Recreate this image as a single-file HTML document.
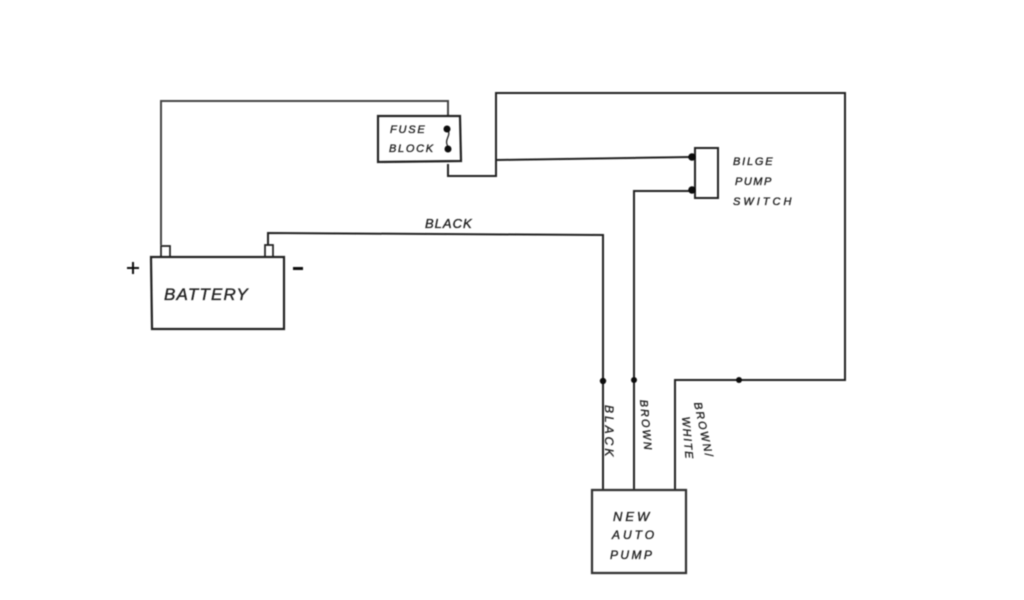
<!DOCTYPE html>
<html>
<head>
<meta charset="utf-8">
<style>
html,body{margin:0;padding:0;background:#fff;width:1024px;height:600px;overflow:hidden}
svg{display:block}
text{font-family:"Liberation Sans",sans-serif;font-style:italic;fill:#222;stroke:#222;stroke-width:0.35}
</style>
</head>
<body>
<svg width="1024" height="600" viewBox="0 0 1024 600" xmlns="http://www.w3.org/2000/svg">
<defs><filter id="b" x="-2%" y="-2%" width="104%" height="104%"><feGaussianBlur stdDeviation="0.4"/></filter></defs>
<rect width="1024" height="600" fill="#fff"/>
<g filter="url(#b)">
<g fill="none" stroke="#222" stroke-width="2">
  <!-- wires -->
  <path d="M161 245V101H448V115" stroke="#444"/>
  <path d="M448 164V176H496V93H845V380H675V490"/>
  <path d="M496 160L692 157"/>
  <path d="M268 245V233L603 235V490"/>
  <path d="M634 490V191H692"/>
  <!-- fuse block -->
  <path d="M378 116H460L461 161L378 162Z" stroke-width="2.2"/>
  <path d="M447 129C453 136 442 139 449 148" stroke-width="1.3"/>
  <!-- battery -->
  <path d="M151 257H284V329H152Z" stroke-width="2.2"/>
  <path d="M161 256V246H170V256M265 256V245H273V256" stroke-width="1.7"/>
  <!-- switch -->
  <path d="M695 148H718V198H695Z"/>
  <!-- pump -->
  <path d="M592 490H686V573H592Z" stroke-width="2.2" stroke="#333"/>
</g>
<!-- dots -->
<g fill="#111">
  <circle cx="447" cy="129" r="3.5"/>
  <circle cx="448" cy="149" r="3.5"/>
  <circle cx="692" cy="157" r="3.8"/>
  <circle cx="692" cy="190" r="3.8"/>
  <circle cx="603" cy="381" r="3.2"/>
  <circle cx="634" cy="380" r="3"/>
  <circle cx="739" cy="380" r="3"/>
  <rect x="127" y="267" width="12" height="2"/>
  <rect x="132" y="262" width="2" height="12"/>
  <rect x="293" y="267" width="10" height="3"/>
</g>
<!-- labels -->
<text x="390" y="133" font-size="11" letter-spacing="1.8">FUSE</text>
<text x="389" y="152" font-size="11" letter-spacing="1.7">BLOCK</text>
<text x="164" y="300" font-size="17" letter-spacing="1.2">BATTERY</text>
<text x="425" y="228" font-size="13" letter-spacing="1">BLACK</text>
<text x="733" y="165" font-size="11" letter-spacing="1.8">BILGE</text>
<text x="735" y="185" font-size="11" letter-spacing="1.5">PUMP</text>
<text x="733" y="205" font-size="11" letter-spacing="3">SWITCH</text>
<text transform="translate(605,405) rotate(90)" font-size="12" letter-spacing="3">BLACK</text>
<text transform="translate(640,400) rotate(85)" font-size="11" letter-spacing="2">BROWN</text>
<text transform="translate(694,403) rotate(78)" font-size="11" letter-spacing="2">BROWN/</text>
<text transform="translate(682,417) rotate(85)" font-size="11" letter-spacing="1.6">WHITE</text>
<text x="613" y="521" font-size="13" letter-spacing="3">NEW</text>
<text x="612" y="539" font-size="12" letter-spacing="3">AUTO</text>
<text x="610" y="559" font-size="12" letter-spacing="2.4">PUMP</text>
</g>
</svg>
</body>
</html>
